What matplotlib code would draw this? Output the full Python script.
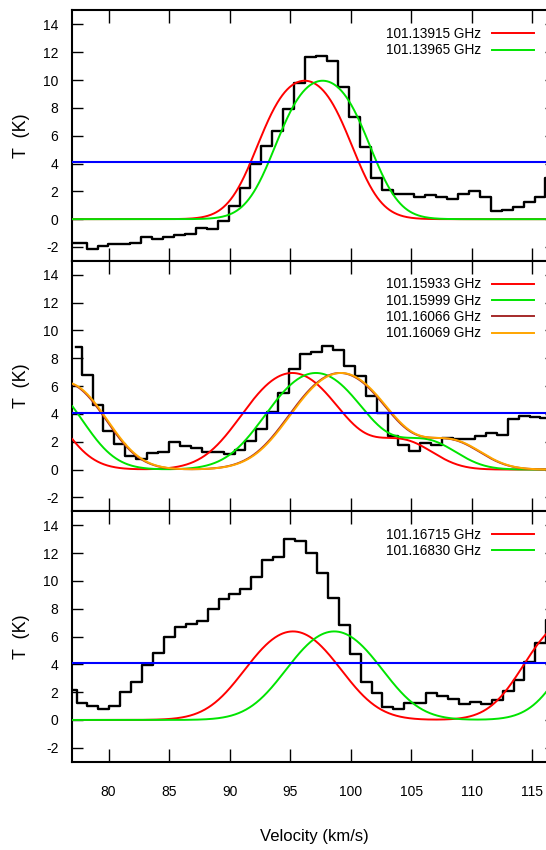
import numpy as np
import matplotlib
matplotlib.use('Agg')
import matplotlib.pyplot as plt

plt.rcParams['font.family'] = ['Liberation Sans', 'DejaVu Sans']
plt.rcParams['axes.unicode_minus'] = False

C_KMS = 299792.458
T_EX = 12.81          # excitation temperature used for the LTE models (K)
DV = 0.9025           # channel width (km/s)
RMS_LEVEL = 4.1       # detection threshold drawn in blue

# observed spectra, one value per channel; first channel centre per panel
v_first = [76.83, 77.32, 76.90]

spec_top = [-1.68, -1.68, -2.18, -1.94, -1.80, -1.78, -1.74, -1.25, -1.44, -1.27,
            -1.15, -1.06, -0.60, -0.70, -0.12, 0.94, 2.25, 3.96, 5.28, 6.33,
            7.94, 9.76, 11.63, 11.75, 11.39, 9.52, 7.36, 5.20, 2.97, 2.09,
            1.80, 1.80, 1.60, 1.72, 1.56, 1.47, 1.78, 2.00, 1.60, 0.60,
            0.65, 0.84, 1.25, 1.60, 2.94]

spec_mid = [8.78, 6.77, 4.67, 2.75, 1.87, 0.96, 0.79, 1.20, 1.27, 1.96,
            1.72, 1.53, 1.27, 1.27, 1.15, 1.39, 2.08, 2.92, 4.11, 5.50,
            7.25, 8.28, 8.42, 8.90, 8.58, 7.43, 6.70, 5.30, 4.10, 2.44,
            1.80, 1.34, 1.88, 1.75, 2.30, 2.18, 2.20, 2.42, 2.66, 2.49,
            3.64, 3.88, 3.80, 3.73, 3.70]

spec_bot = [2.18, 1.22, 0.98, 0.81, 1.03, 1.99, 2.73, 3.97, 4.81, 6.00,
            6.65, 6.91, 7.13, 7.97, 8.68, 9.04, 9.43, 10.26, 11.51, 11.72,
            12.99, 12.87, 11.99, 10.58, 8.80, 6.80, 4.72, 2.75, 1.92, 0.92,
            0.80, 1.21, 1.23, 1.93, 1.71, 1.52, 1.17, 1.28, 1.18, 1.43,
            2.10, 2.90, 4.14, 5.53, 7.20]

# candidate rest frequencies (GHz) and their colours
freq_top = [101.13915, 101.13965]
freq_mid = [101.15933, 101.15999, 101.16066, 101.16069]
freq_bot = [101.16715, 101.16830]

col_top = ['#ff0000', '#00e400']
col_mid = ['#ff0000', '#00e400', '#a52a2a', '#ffa500']
col_bot = ['#ff0000', '#00e400']

# velocity of the first frequency in each panel
v_ref = [96.20, 95.17, 95.23]

# model components: velocity offset, peak opacity, dispersion (km/s)
off_top, tau_top, sig_top = [0.0], [1.5], [2.71]
off_mid, tau_mid, sig_mid = [-22.8, 0.0, 9.2], [0.673, 0.781, 0.167], [2.9, 3.4, 2.35]
off_bot, tau_bot, sig_bot = [0.0, 22.87], [0.687, 0.81], [3.3, 3.04]


def lte_profile(v, v0, offs, taus, sigs):
    tau = np.zeros_like(v)
    for d, t, s in zip(offs, taus, sigs):
        tau += t * np.exp(-(v - v0 - d) ** 2 / (2 * s ** 2))
    return T_EX * (1 - np.exp(-tau))


panels = [
    (spec_top, freq_top, col_top, off_top, tau_top, sig_top),
    (spec_mid, freq_mid, col_mid, off_mid, tau_mid, sig_mid),
    (spec_bot, freq_bot, col_bot, off_bot, tau_bot, sig_bot),
]

fig = plt.figure(figsize=(5.46, 8.5), dpi=100)
left, width, height = 0.1324, 0.8868, 0.29459
bottoms = [0.69306, 0.39847, 0.10388]

vv = np.linspace(77, 117, 801)

for i, (spec, freqs, cols, offs, taus, sigs) in enumerate(panels):
    ax = fig.add_axes([left, bottoms[i], width, height])

    v = v_first[i] + DV * np.arange(len(spec))
    ax.step(v, spec, where='mid', color='black', lw=1.7, zorder=2)

    for f, c in zip(freqs, cols):
        v0 = v_ref[i] + C_KMS * (f - freqs[0]) / freqs[0]
        ax.plot(vv, lte_profile(vv, v0, offs, taus, sigs), color=c, lw=1.4,
                label='%.5f GHz' % f, zorder=3)

    ax.axhline(RMS_LEVEL, color='#0000ff', lw=1.5, zorder=4)

    ax.set_xlim(77, 117)
    ax.set_ylim(-3, 15)
    ax.set_xticks(np.arange(80, 116, 5))
    ax.set_yticks(np.arange(-2, 15, 2))
    ax.tick_params(direction='in', top=True, right=True, width=1, labelsize=10)
    ax.tick_params(axis='x', length=9.4, pad=17)
    ax.tick_params(axis='y', length=7.9, pad=10)
    if i < 2:
        ax.tick_params(axis='x', labelbottom=False)
    for sp in ax.spines.values():
        sp.set_linewidth(1.5)

    ax.text(-0.1043, 0.5, 'T  (K)', rotation=90, transform=ax.transAxes,
            ha='center', va='center', fontsize=13)

    ax.legend(loc='upper right', bbox_to_anchor=(0.953, 0.934), frameon=False,
              markerfirst=False, handlelength=3.1, handletextpad=0.75,
              labelspacing=0.17, borderpad=0, borderaxespad=0, fontsize=9.8)

fig.text(0.5758, 0.0156, 'Velocity (km/s)', ha='center', va='center', fontsize=12)

fig.savefig('out.png', dpi=100)
